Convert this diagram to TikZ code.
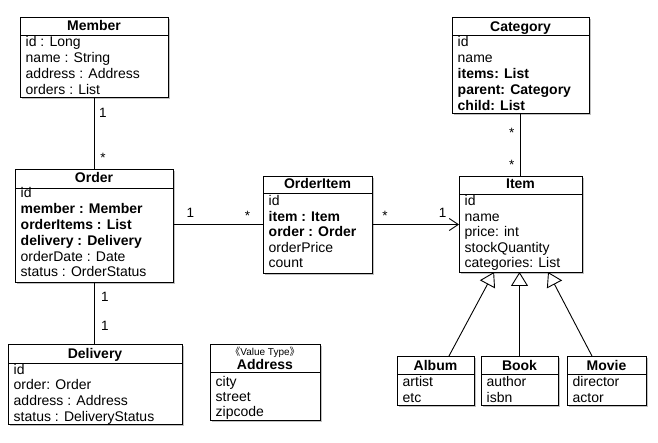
\documentclass[tikz,border=0pt]{standalone}
\usepackage{fontspec}
\setmainfont{Liberation Sans}
\newfontfamily\cjkfont{Noto Sans CJK JP}
\usetikzlibrary{arrows.meta,shadows,fit,calc}

\tikzset{
  x=1pt,y=-1pt,
  boxsty/.style={draw, line width=0.9pt, fill=white, inner sep=0pt, outer sep=0pt,
    drop shadow={shadow xshift=1.6pt, shadow yshift=-1.6pt, opacity=0.35, fill=black!70}},
  ttl/.style={font=\fontsize{14}{16}\selectfont\bfseries, inner sep=0pt, anchor=base},
  attr/.style={font=\fontsize{14}{16}\selectfont, inner sep=0pt, anchor=base west},
  mult/.style={font=\fontsize{13.5}{15}\selectfont, inner sep=0pt},
  stereo/.style={font=\fontsize{10}{12}\selectfont, inner sep=0pt, anchor=base},
  assoc/.style={line width=0.9pt},
  gen/.style={line width=0.9pt, -{Triangle[open, length=14pt, width=17pt, fill=white]}},
  nav/.style={line width=0.9pt, -{Straight Barb[length=9pt, width=12pt]}},
}

% #1 name, #2 x1, #3 top, #4 x2, #5 ysep, #6 bottom, #7 title, #8 title baseline
\newcommand\umlclass[8]{%
  \coordinate (#1-nw) at (#2,#3);
  \coordinate (#1-se) at (#4,#6);
  \node[boxsty, fit=(#1-nw)(#1-se)] (#1) {};
  \draw[line width=0.9pt] (#2,#5) -- (#4,#5);
  \node[ttl] (#1-title) at ({(#2+#4)/2}, #8) {#7};
}
% #1 name, #2 x, #3 first baseline, #4 step, #5 list
\newcommand\attrs[5]{%
  \foreach \t [count=\i] in {#5} {
    \node[attr] (#1-a\i) at (#2, {#3+(\i-1)*#4}) {\t};
  }
}

\begin{document}
\begin{tikzpicture}
\useasboundingbox (0,0) rectangle (658,443);

% Member
\umlclass{member}{20}{17}{168}{35}{97}{Member}{31}
\attrs{member}{25.5}{47}{15.9}{id : Long, name : String, address : Address, orders : List}

% Order
\umlclass{order}{15}{169}{173}{188}{282}{Order}{183}
\attrs{order}{20.5}{198}{15.8}{id, \textbf{member : Member}, \textbf{orderItems : List}, \textbf{delivery : Delivery}, orderDate : Date, status : OrderStatus}

% OrderItem
\umlclass{orderitem}{263}{176}{372}{193}{273}{OrderItem}{189}
\attrs{orderitem}{268.5}{206}{15.5}{id, \textbf{item : Item}, \textbf{order : Order}, orderPrice, count}

% Item
\umlclass{item}{459}{176}{582}{194}{272}{Item}{189}
\attrs{item}{464.5}{206}{15.5}{id, name, price: int, stockQuantity, categories: List}

% Category
\umlclass{category}{452}{17}{589}{35}{113}{Category}{31.5}
\attrs{category}{457.5}{46.7}{16}{id, name, \textbf{items: List}, \textbf{parent: Category}, \textbf{child: List}}

% Delivery
\umlclass{delivery}{8}{344}{182}{363}{424}{Delivery}{358.5}
\attrs{delivery}{13.5}{374}{15.7}{id, order: Order, address : Address, status : DeliveryStatus}

% Address
\umlclass{address}{210}{344}{320}{372}{420}{Address}{369}
\node[stereo] (address-stereo) at (265,355) {{\cjkfont 《}Value Type{\cjkfont 》}};
\attrs{address}{215.5}{386}{15}{city, street, zipcode}

% Album, Book, Movie
\umlclass{album}{397}{356}{474}{374}{405}{Album}{370}
\attrs{album}{402.5}{386.5}{15.6}{artist, etc}
\umlclass{book}{481}{356}{558}{374}{405}{Book}{370}
\attrs{book}{486.5}{386.5}{15.6}{author, isbn}
\umlclass{movie}{567}{356}{646}{374}{405}{Movie}{370}
\attrs{movie}{572.5}{386.5}{15.6}{director, actor}

% associations
\draw[assoc] (member) -- (order);
\node[mult] (m1) at (103,113) {1};
\node[mult] (m2) at (103,158) {*};

\draw[assoc] (order.east |- orderitem.west) -- (orderitem.west);
\node[mult] (m3) at (190.5,213) {1};
\node[mult] (m4) at (247.5,216) {*};

\draw[nav] (orderitem.east) -- (orderitem.east -| item.west);
\node[mult] (m5) at (385,216) {*};
\node[mult] (m6) at (442.5,212.5) {1};

\draw[assoc] (category) -- (item);
\node[mult] (m7) at (511.7,133) {*};
\node[mult] (m8) at (511.7,164.5) {*};

\draw[assoc] (order.south) -- (order.south |- delivery.north);
\node[mult] (m9) at (105,297) {1};
\node[mult] (m10) at (105,326) {1};

% generalizations
\coordinate (album-top) at ($(album.north west)!0.675!(album.north east)$);
\coordinate (movie-top) at ($(movie.north west)!0.316!(movie.north east)$);
\coordinate (item-gl) at ($(item.south west)!0.285!(item.south east)$);
\coordinate (item-gr) at ($(item.south west)!0.724!(item.south east)$);
\draw[gen] (album-top) -- (item-gl);
\draw[gen] (book.north) -- (book.north |- item.south);
\draw[gen] (movie-top) -- (item-gr);
\end{tikzpicture}
\end{document}
